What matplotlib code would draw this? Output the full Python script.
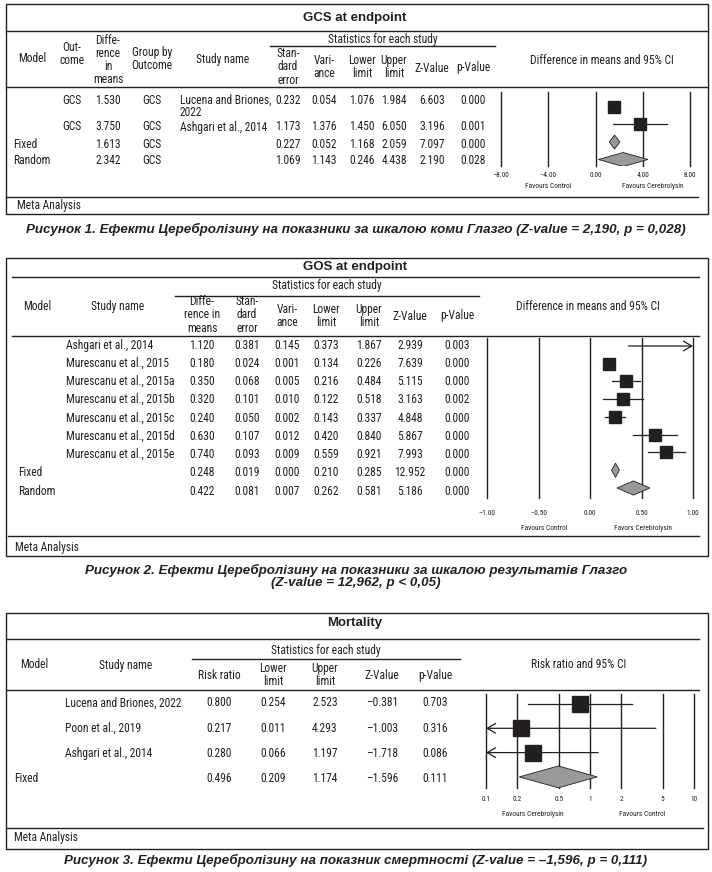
import matplotlib
matplotlib.use("Agg")
import matplotlib.pyplot as plt
from matplotlib.lines import Line2D
from matplotlib.patches import Rectangle
from matplotlib.ticker import NullLocator
from matplotlib import font_manager

# ---- data: GCS at endpoint ----
gcs_model = ["", "", "Fixed", "Random"]
gcs_outcome = ["GCS", "GCS", "", ""]
gcs_group = ["GCS", "GCS", "GCS", "GCS"]
gcs_study = ["Lucena and Briones,\n2022", "Ashgari et al., 2014", "", ""]
gcs_diff = [1.530, 3.750, 1.613, 2.342]
gcs_se = [0.232, 1.173, 0.227, 1.069]
gcs_var = [0.054, 1.376, 0.052, 1.143]
gcs_lo = [1.076, 1.450, 1.168, 0.246]
gcs_hi = [1.984, 6.050, 2.059, 4.438]
gcs_z = [6.603, 3.196, 7.097, 2.190]
gcs_p = [0.000, 0.001, 0.000, 0.028]
gcs_ticks = [-8, -4, 0, 4, 8]
gcs_ticklabels = ["\u20138.00", "\u20134.00", "0.00", "4.00", "8.00"]

# ---- data: GOS at endpoint ----
gos_model = ["", "", "", "", "", "", "", "Fixed", "Random"]
gos_study = ["Ashgari et al., 2014", "Murescanu et al., 2015", "Murescanu et al., 2015a",
             "Murescanu et al., 2015b", "Murescanu et al., 2015c", "Murescanu et al., 2015d",
             "Murescanu et al., 2015e", "", ""]
gos_diff = [1.120, 0.180, 0.350, 0.320, 0.240, 0.630, 0.740, 0.248, 0.422]
gos_se = [0.381, 0.024, 0.068, 0.101, 0.050, 0.107, 0.093, 0.019, 0.081]
gos_var = [0.145, 0.001, 0.005, 0.010, 0.002, 0.012, 0.009, 0.000, 0.007]
gos_lo = [0.373, 0.134, 0.216, 0.122, 0.143, 0.420, 0.559, 0.210, 0.262]
gos_hi = [1.867, 0.226, 0.484, 0.518, 0.337, 0.840, 0.921, 0.285, 0.581]
gos_z = [2.939, 7.639, 5.115, 3.163, 4.848, 5.867, 7.993, 12.952, 5.186]
gos_p = [0.003, 0.000, 0.000, 0.002, 0.000, 0.000, 0.000, 0.000, 0.000]
gos_ticks = [-1, -0.5, 0, 0.5, 1]
gos_ticklabels = ["\u20131.00", "\u20130.50", "0.00", "0.50", "1.00"]

# ---- data: Mortality ----
mort_model = ["", "", "", "Fixed"]
mort_study = ["Lucena and Briones, 2022", "Poon et al., 2019", "Ashgari et al., 2014", ""]
mort_rr = [0.800, 0.217, 0.280, 0.496]
mort_lo = [0.254, 0.011, 0.066, 0.209]
mort_hi = [2.523, 4.293, 1.197, 1.174]
mort_z = [-0.381, -1.003, -1.718, -1.596]
mort_p = [0.703, 0.316, 0.086, 0.111]
mort_ticks = [0.1, 0.2, 0.5, 1, 2, 5, 10]
mort_ticklabels = ["0.1", "0.2", "0.5", "1", "2", "5", "10"]

W, H = 712, 872
names = {f.name for f in font_manager.fontManager.ttflist}
pref = ["Liberation Sans Narrow", "Roboto Condensed", "Archivo Narrow", "Barlow Semi Condensed"]
NARROW = next((p for p in pref if p in names), "Liberation Sans")
plt.rcParams["font.family"] = [NARROW, "DejaVu Sans"]
INK = "#231f20"
GRAY = "#999999"
FS = 8.3
CAP = dict(size=9.6, fontweight="bold", style="italic", family="Liberation Sans")

fig = plt.figure(figsize=(W / 100, H / 100), dpi=100)


def fx(x):
    return x / W


def fy(y):
    return 1 - y / H


def txt(x, y, s, size=FS, ha="center", va="center", ls=1.02, **kw):
    fig.text(fx(x), fy(y), s, fontsize=size, ha=ha, va=va, color=INK,
             linespacing=ls, **kw)


def hline(x0, x1, y, lw=1.0):
    fig.add_artist(Line2D([fx(x0), fx(x1)], [fy(y), fy(y)], transform=fig.transFigure,
                          color=INK, lw=lw))


def box(x0, y0, x1, y1):
    fig.add_artist(Rectangle((fx(x0), fy(y1)), (x1 - x0) / W, (y1 - y0) / H,
                             transform=fig.transFigure, fill=False, lw=1.0, ec=INK))


def num(v):
    s = "%.3f" % v
    return s.replace("-", "\u2013")


def forest(x0, x1, y0, y1, row0, step, est, lo, hi, nstud, xlim, ticks, labels,
           sq, dh, pad, log=False):
    ax = fig.add_axes([fx(x0), fy(y1), (x1 - x0) / W, (y1 - y0) / H])
    if log:
        ax.set_xscale("log")
    ax.set_xlim(*xlim)
    ax.set_ylim((y1 - row0) / step, (y0 - row0) / step)
    for t in ticks:
        ax.axvline(t, color=INK, lw=1.0, clip_on=False, zorder=1)
    arrow = dict(arrowstyle="->,head_length=0.6,head_width=0.35",
                 lw=0.9, color=INK, shrinkA=0, shrinkB=0)
    for i in range(nstud):
        left = max(lo[i], xlim[0])
        right = min(hi[i], xlim[1])
        if lo[i] < xlim[0]:
            ax.annotate("", xy=(left, i), xytext=(right, i), arrowprops=arrow)
        elif hi[i] > xlim[1]:
            ax.annotate("", xy=(right, i), xytext=(left, i), arrowprops=arrow)
        else:
            ax.plot([left, right], [i, i], color=INK, lw=0.9, zorder=2)
        ax.plot([est[i]], [i], marker="s", ms=sq, color=INK, mec=INK, zorder=3,
                linestyle="none")
    for j in range(nstud, len(est)):
        ax.fill([lo[j], est[j], hi[j], est[j]], [j, j - dh, j, j + dh],
                facecolor=GRAY, edgecolor=INK, lw=0.6, zorder=3)
    ax.xaxis.set_minor_locator(NullLocator())
    ax.set_xticks(ticks)
    ax.set_xticklabels(labels, fontsize=5.3, color=INK)
    ax.tick_params(axis="x", length=0, pad=pad)
    ax.set_yticks([])
    for sp in ax.spines.values():
        sp.set_visible(False)
    ax.patch.set_alpha(0)
    return ax


# ================= Panel 1: GCS =================
box(6, 4, 708, 214)
txt(355, 18, "GCS at endpoint", size=9.5, fontweight="bold", family="Liberation Sans")
hline(6, 708, 31)
txt(383, 40, "Statistics for each study")
hline(270, 495, 46)
txt(32, 59, "Model")
txt(72, 54, "Out-\ncome")
txt(108, 60, "Diffe-\nrence\nin\nmeans")
txt(152, 59, "Group by\nOutcome")
txt(223, 59, "Study name")
txt(288, 67, "Stan-\ndard\nerror")
txt(324, 67, "Vari-\nance")
txt(362, 67, "Lower\nlimit")
txt(394, 67, "Upper\nlimit")
txt(432, 68, "Z-Value")
txt(473, 68, "p-Value")
txt(602, 60, "Difference in means and 95% CI")
hline(6, 708, 87)
gcs_rows = [100, 127, 145, 161]
for i, y in enumerate(gcs_rows):
    txt(13, y, gcs_model[i], ha="left")
    txt(72, y, gcs_outcome[i])
    txt(108, y, num(gcs_diff[i]))
    txt(152, y, gcs_group[i])
    if gcs_study[i]:
        txt(180, y - 6, gcs_study[i], ha="left", va="top", ls=0.85)
    for x, arr in [(288, gcs_se), (324, gcs_var), (362, gcs_lo), (394, gcs_hi),
                   (432, gcs_z), (473, gcs_p)]:
        txt(x, y, num(arr[i]))
forest(501, 690, 92, 166, 107, 17.5, gcs_diff, gcs_lo, gcs_hi, 2, (-8, 8),
       gcs_ticks, gcs_ticklabels, sq=8.8, dh=0.4, pad=4.5)
txt(548, 187, "Favours Control", size=5.3)
txt(653, 187, "Favours Cerebrolysin", size=5.3)
hline(6, 698, 197)
txt(17, 206, "Meta Analysis", size=8.3, ha="left")
txt(356, 229, "Рисунок 1. Ефекти Церебролізину на показники за шкалою коми Глазго "
    "(Z-value = 2,190, p = 0,028)", **CAP)

# ================= Panel 2: GOS =================
box(6, 258, 708, 556)
txt(355, 267, "GOS at endpoint", size=9.5, fontweight="bold", family="Liberation Sans")
hline(12, 699, 277)
txt(327, 285, "Statistics for each study")
hline(175, 479, 296)
txt(37, 306, "Model")
txt(118, 306, "Study name")
txt(202, 315, "Diffe-\nrence in\nmeans")
txt(247, 315, "Stan-\ndard\nerror")
txt(287, 316, "Vari-\nance")
txt(326, 316, "Lower\nlimit")
txt(369, 316, "Upper\nlimit")
txt(410, 316, "Z-Value")
txt(457, 316, "p-Value")
txt(588, 306, "Difference in means and 95% CI")
hline(12, 699, 336)
for i in range(len(gos_diff)):
    y = 345 + i * 18.25
    txt(18, y, gos_model[i], ha="left")
    txt(66, y, gos_study[i], ha="left")
    for x, arr in [(202, gos_diff), (247, gos_se), (287, gos_var), (326, gos_lo),
                   (369, gos_hi), (410, gos_z), (457, gos_p)]:
        txt(x, y, num(arr[i]))
forest(487, 693, 338, 498, 346, 17.75, gos_diff, gos_lo, gos_hi, 7, (-1, 1),
       gos_ticks, gos_ticklabels, sq=9.2, dh=0.4, pad=8.3)
txt(544, 528, "Favours Control", size=5.3)
txt(643, 528, "Favors Cerebrolysin", size=5.3)
hline(8, 699, 536)
txt(15, 547, "Meta Analysis", size=8.3, ha="left")
txt(356, 570, "Рисунок 2. Ефекти Церебролізину на показники за шкалою результатів Глазго",
    **CAP)
txt(356, 583, "(Z-value = 12,962, p < 0,05)", **CAP)

# ================= Panel 3: Mortality =================
box(6, 613, 708, 849)
txt(355, 623, "Mortality", size=9.5, fontweight="bold", family="Liberation Sans")
hline(7, 699, 639)
txt(326, 650, "Statistics for each study")
hline(192, 460, 659)
txt(34, 665, "Model")
txt(126, 665, "Study name")
txt(219, 675, "Risk ratio")
txt(273, 675, "Lower\nlimit")
txt(325, 675, "Upper\nlimit")
txt(382, 675, "Z-Value")
txt(435, 675, "p-Value")
txt(579, 665, "Risk ratio and 95% CI")
hline(7, 699, 690)
for i in range(len(mort_rr)):
    y = 703 + i * 25.3
    txt(14, y, mort_model[i], ha="left")
    txt(65, y, mort_study[i], ha="left")
    for x, arr in [(219, mort_rr), (273, mort_lo), (325, mort_hi), (382, mort_z),
                   (435, mort_p)]:
        txt(x, y, num(arr[i]))
forest(486, 694, 694, 788, 704, 24.3, mort_rr, mort_lo, mort_hi, 3, (0.1, 10),
       mort_ticks, mort_ticklabels, sq=11, dh=0.45, pad=5.4, log=True)
txt(533, 814, "Favours Cerebrolysin", size=5.3)
txt(642, 814, "Favours Control", size=5.3)
hline(7, 703, 828)
txt(14, 837, "Meta Analysis", size=8.3, ha="left")
txt(356, 860, "Рисунок 3. Ефекти Церебролізину на показник смертності "
    "(Z-value = \u20131,596, p = 0,111)", **CAP)

fig.savefig("out.png", dpi=100)
